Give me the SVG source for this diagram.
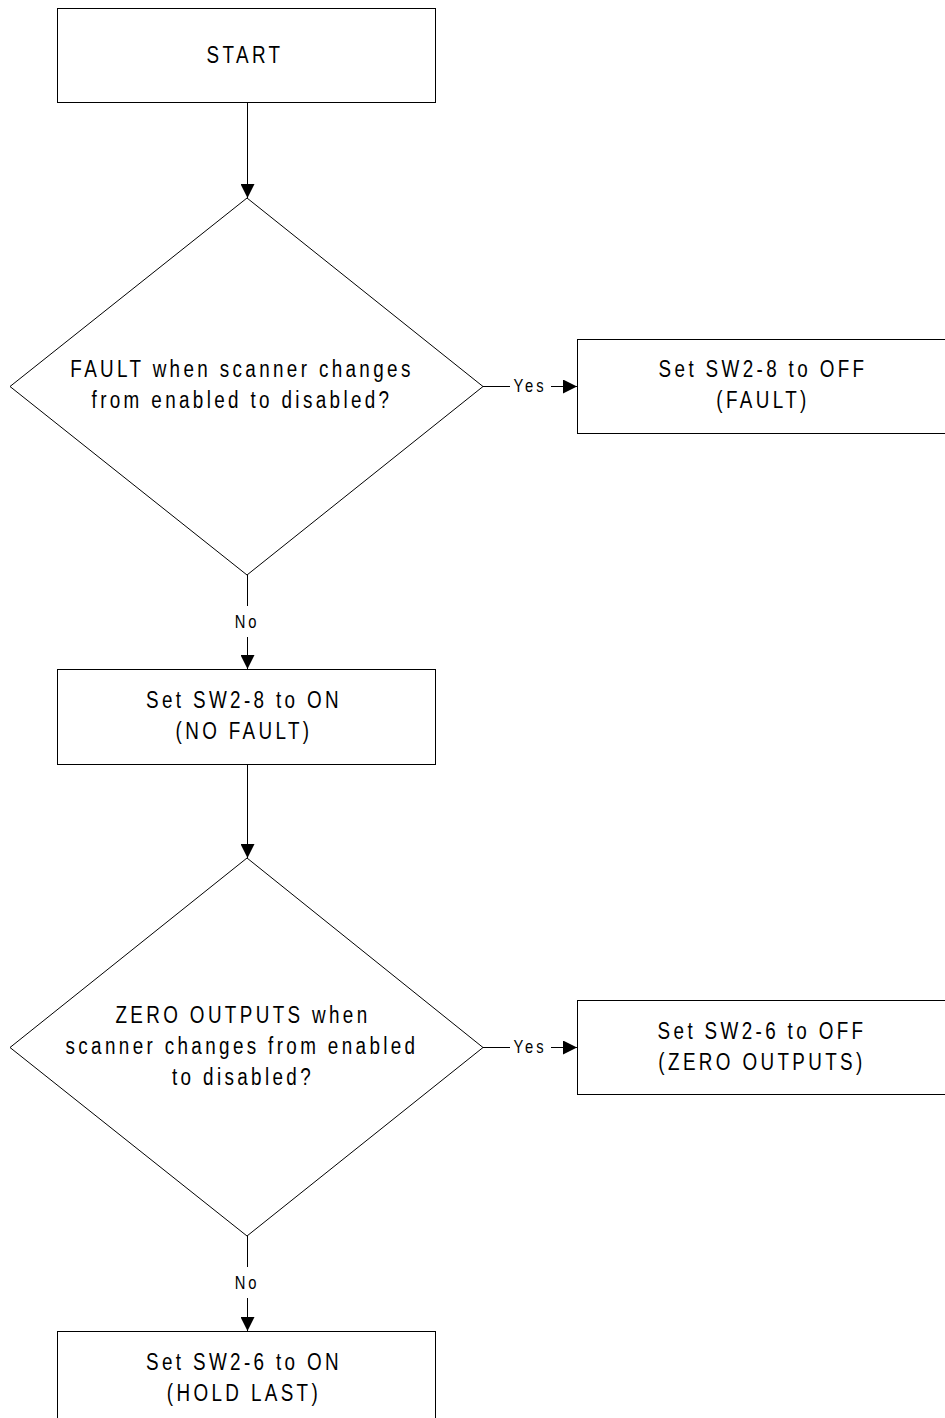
<svg xmlns="http://www.w3.org/2000/svg" width="945" height="1418" viewBox="0 0 945 1418">
<style>
.box{fill:#fff;stroke:#000;stroke-width:1}
.dia{fill:#fff;stroke:#000;stroke-width:1}
.t{font-family:"Liberation Sans",Arial,sans-serif;font-size:23px;letter-spacing:4.1px;fill:#000;text-anchor:middle}
.lbl{font-family:"Liberation Sans",Arial,sans-serif;font-size:18px;letter-spacing:3.6px;fill:#000;text-anchor:middle}
.ln{fill:none;stroke:#000;stroke-width:1}
</style>
<defs>
<marker id="ah" viewBox="0 0 14 14" refX="14" refY="7" markerWidth="14" markerHeight="14" markerUnits="userSpaceOnUse" orient="auto">
<path d="M0,0 L14,7 L0,14 Z" fill="#000"/>
</marker>
</defs>
<g id="connectors">
<line class="ln" x1="247.5" y1="102" x2="247.5" y2="198" marker-end="url(#ah)"/>
<line class="ln" x1="483" y1="386.5" x2="510" y2="386.5"/>
<line class="ln" x1="551" y1="386.5" x2="577" y2="386.5" marker-end="url(#ah)"/>
<line class="ln" x1="247.5" y1="575" x2="247.5" y2="606"/>
<line class="ln" x1="247.5" y1="637" x2="247.5" y2="669" marker-end="url(#ah)"/>
<line class="ln" x1="247.5" y1="765" x2="247.5" y2="858" marker-end="url(#ah)"/>
<line class="ln" x1="483" y1="1047.5" x2="510" y2="1047.5"/>
<line class="ln" x1="551" y1="1047.5" x2="577" y2="1047.5" marker-end="url(#ah)"/>
<line class="ln" x1="247.5" y1="1236" x2="247.5" y2="1267"/>
<line class="ln" x1="247.5" y1="1298" x2="247.5" y2="1331" marker-end="url(#ah)"/>
<text class="lbl" transform="translate(530,392) scale(0.82,1)">Yes</text>
<text class="lbl" transform="translate(247,628) scale(0.82,1)">No</text>
<text class="lbl" transform="translate(530,1053) scale(0.82,1)">Yes</text>
<text class="lbl" transform="translate(247,1289) scale(0.82,1)">No</text>
</g>
<g id="start">
<rect class="box" x="57.5" y="8.5" width="378" height="94"/>
<text class="t" transform="translate(245,63) scale(0.82,1)">START</text>
</g>
<g id="decision1">
<polygon class="dia" points="247,198 483,386.5 247,575 10,386.5"/>
<text class="t" transform="translate(242,377) scale(0.82,1)">FAULT when scanner changes</text>
<text class="t" transform="translate(242,408) scale(0.82,1)">from enabled to disabled?</text>
</g>
<g id="fault-off">
<rect class="box" x="577.5" y="339.5" width="380" height="94"/>
<text class="t" transform="translate(763,377) scale(0.82,1)">Set SW2-8 to OFF</text>
<text class="t" transform="translate(763,408) scale(0.82,1)">(FAULT)</text>
</g>
<g id="fault-on">
<rect class="box" x="57.5" y="669.5" width="378" height="95"/>
<text class="t" transform="translate(244,708) scale(0.82,1)">Set SW2-8 to ON</text>
<text class="t" transform="translate(244,739) scale(0.82,1)">(NO FAULT)</text>
</g>
<g id="decision2">
<polygon class="dia" points="247,858 483,1047.5 247,1236 10,1047.5"/>
<text class="t" transform="translate(243,1023) scale(0.82,1)">ZERO OUTPUTS when</text>
<text class="t" transform="translate(242,1054) scale(0.82,1)">scanner changes from enabled</text>
<text class="t" transform="translate(243,1085) scale(0.82,1)">to disabled?</text>
</g>
<g id="zero-off">
<rect class="box" x="577.5" y="1000.5" width="380" height="94"/>
<text class="t" transform="translate(762,1039) scale(0.82,1)">Set SW2-6 to OFF</text>
<text class="t" transform="translate(762,1070) scale(0.82,1)">(ZERO OUTPUTS)</text>
</g>
<g id="hold-last">
<rect class="box" x="57.5" y="1331.5" width="378" height="100"/>
<text class="t" transform="translate(244,1370) scale(0.82,1)">Set SW2-6 to ON</text>
<text class="t" transform="translate(244,1401) scale(0.82,1)">(HOLD LAST)</text>
</g>
</svg>
